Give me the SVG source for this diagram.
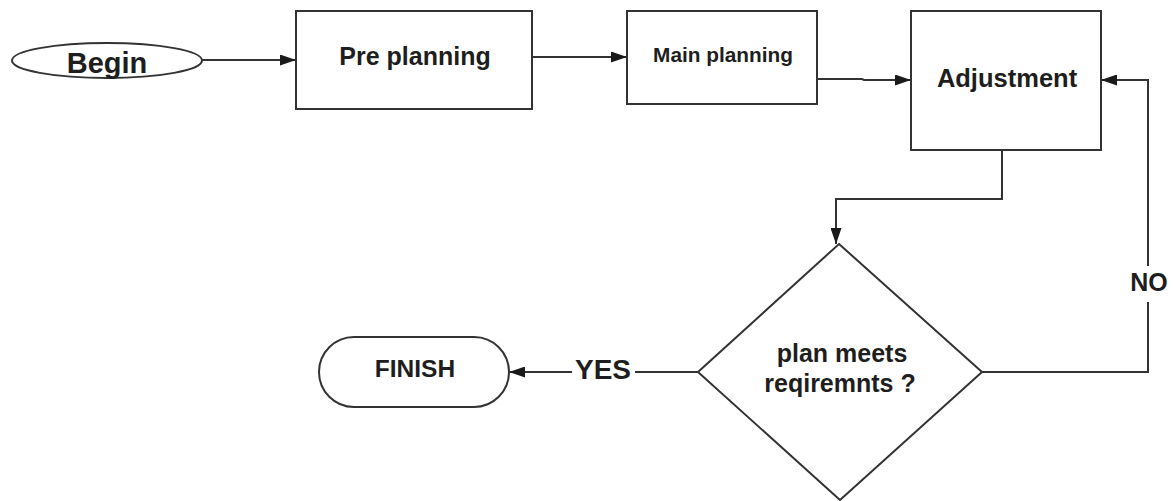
<svg xmlns="http://www.w3.org/2000/svg" width="1174" height="501" viewBox="0 0 1174 501">
  <defs>
    <marker id="arrow" viewBox="0 0 16 11" markerWidth="16" markerHeight="11" refX="16" refY="5.5" orient="auto" markerUnits="userSpaceOnUse">
      <path d="M0,0 L16,5.5 L0,11 z" fill="#1a1a1a"/>
    </marker>
  </defs>
  <style>
    .shape { fill: #ffffff; stroke: #333333; stroke-width: 2; }
    .edge { fill: none; stroke: #333333; stroke-width: 2; }
    .label { font-family: "Liberation Sans", Arial, sans-serif; font-weight: bold; fill: #1e1e1e; text-anchor: middle; }
    .bg { fill: #ffffff; }
  </style>
  <rect width="1174" height="501" fill="#ffffff"/>

  <g id="connectors">
    <path class="edge" d="M202,60 H296" marker-end="url(#arrow)"/>
    <path class="edge" d="M532,57 H627" marker-end="url(#arrow)"/>
    <path class="edge" d="M817,79 H862 L864,80 H911" marker-end="url(#arrow)"/>
    <path class="edge" d="M1002,150 V199 H836 V244" marker-end="url(#arrow)"/>
    <path class="edge" d="M982,372 H1148 V80 H1101" marker-end="url(#arrow)"/>
    <path class="edge" d="M698,372 H509" marker-end="url(#arrow)"/>
    <g id="edge-labels">
      <rect class="bg" x="1130" y="266" width="38" height="36"/>
      <text class="label" x="1149" y="291" font-size="25">NO</text>
      <rect class="bg" x="572" y="356" width="63" height="30"/>
      <text class="label" x="603" y="379" font-size="28">YES</text>
    </g>
  </g>

  <g id="begin">
    <ellipse class="shape" cx="107" cy="60.5" rx="95" ry="17.5"/>
    <text class="label" x="107" y="73" font-size="29">Begin</text>
  </g>

  <g id="pre-planning">
    <rect class="shape" x="296" y="11" width="236" height="98"/>
    <text class="label" x="415" y="65" font-size="25">Pre planning</text>
  </g>

  <g id="main-planning">
    <rect class="shape" x="627" y="11" width="190" height="93"/>
    <text class="label" x="723" y="62" font-size="20.8">Main planning</text>
  </g>

  <g id="adjustment">
    <rect class="shape" x="911" y="11" width="190" height="139"/>
    <text class="label" x="1007" y="87" font-size="25.5">Adjustment</text>
  </g>

  <g id="decision">
    <polygon class="shape" points="839,244 982,372 840,500 698,372"/>
    <text class="label" x="842" y="362" font-size="25">plan meets</text>
    <text class="label" x="840" y="392" font-size="25">reqiremnts ?</text>
  </g>

  <g id="finish">
    <rect class="shape" x="319" y="337" width="190" height="70" rx="35" ry="35"/>
    <text class="label" x="415" y="377" font-size="24.5">FINISH</text>
  </g>
</svg>
